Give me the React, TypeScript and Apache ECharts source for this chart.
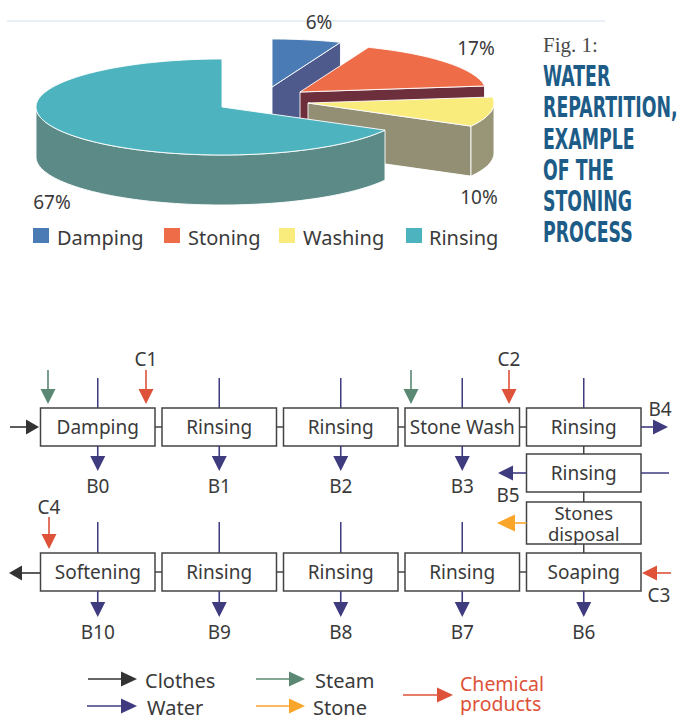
import React, { useEffect, useRef } from "react";
import * as echarts from "echarts";

// ---------- data ----------
const categories = ["Damping", "Stoning", "Washing", "Rinsing"];
const shares = [6, 17, 10, 67];

const topRow = ["Damping", "Rinsing", "Rinsing", "Stone Wash", "Rinsing"];
const bottomRow = ["Softening", "Rinsing", "Rinsing", "Rinsing", "Soaping"];
const topOutlets = ["B0", "B1", "B2", "B3"];
const bottomOutlets = ["B10", "B9", "B8", "B7", "B6"];
const titleLines = ["WATER", "REPARTITION,", "EXAMPLE", "OF THE", "STONING", "PROCESS"];

// ---------- styles ----------
const topColors = ["#4A7BB5", "#EE6D48", "#FAEC7C", "#4DB4BF"];
const cutColors = ["#4E5A8C", "#6E2F3D", "#928F74", "#5B8A87"];
const sideColors = ["#4E5A8C", "#6E2F3D", "#989677", "#5B8A87"];
const explode = [[50, -20], [78, -15], [86, -4], [0, 0]];
const labelPos = [[319, 22], [476, 48], [479, 197], [52, 202]];
const legendSquareX = [33, 164, 279, 406];
const legendTextX = [57, 188, 303, 429];

const CX = 222, CY = 107, RX = 186, RY = 48, DEPTH = 50;
const FONT = '"Noto Sans", "Lato", sans-serif';
const WATER = "#3F3B7F";
const STEAM = "#5A8872";
const CHEM = "#DD5239";
const STONE = "#F8A52A";
const CLOTH = "#333333";
const TXT = "#3A3A3A";

const rad = (a: number) => (a * Math.PI) / 180;

function arcPts(cx: number, cy: number, a0: number, a1: number, dz = 0) {
  const pts: number[][] = [];
  const n = Math.max(2, Math.ceil(Math.abs(a1 - a0) / 2));
  for (let k = 0; k <= n; k++) {
    const a = a0 + ((a1 - a0) * k) / n;
    pts.push([cx + RX * Math.sin(rad(a)), cy - RY * Math.cos(rad(a)) + dz]);
  }
  return pts;
}

function makeRender(i: number) {
  return (params: any, api: any) => {
    const total = shares.reduce((s, v) => s + v, 0);
    const v = api.value(0);
    const start = shares.slice(0, i).reduce((s, x) => s + x, 0);
    const a0 = (start / total) * 360;
    const a1 = ((start + v) / total) * 360;
    const cx = CX + explode[i][0];
    const cy = CY + explode[i][1];
    const edge = { stroke: "rgba(255,255,255,0.9)", lineWidth: 1 };
    const children: any[] = [];
    const cut = (a: number) => {
      const p = [cx + RX * Math.sin(rad(a)), cy - RY * Math.cos(rad(a))];
      children.push({
        type: "polygon",
        shape: { points: [[cx, cy], p, [p[0], p[1] + DEPTH], [cx, cy + DEPTH]] },
        style: { fill: cutColors[i], ...edge },
      });
    };
    if (Math.sin(rad(a1)) > 0.01) cut(a1);
    if (Math.sin(rad(a0)) < -0.01) cut(a0);
    const lo = Math.max(a0, 90), hi = Math.min(a1, 270);
    if (hi > lo) {
      const topArc = arcPts(cx, cy, lo, hi);
      const botArc = arcPts(cx, cy, lo, hi, DEPTH).reverse();
      children.push({
        type: "polygon",
        shape: { points: topArc.concat(botArc) },
        style: { fill: sideColors[i], ...edge },
      });
    }
    children.push({
      type: "polygon",
      shape: { points: [[cx, cy]].concat(arcPts(cx, cy, a0, a1)) },
      style: { fill: topColors[i], ...edge },
    });
    children.push({
      type: "text",
      style: {
        text: v + "%",
        x: labelPos[i][0],
        y: labelPos[i][1],
        align: "center",
        verticalAlign: "middle",
        font: `19px ${FONT}`,
        fill: TXT,
      },
    });
    return { type: "group", children };
  };
}

function txt(x: number, y: number, text: string, opts: any = {}) {
  return {
    type: "text",
    x,
    y,
    scaleX: opts.scaleX ?? 1,
    scaleY: opts.scaleY ?? 1,
    style: {
      text,
      x: 0,
      y: 0,
      align: opts.align ?? "center",
      verticalAlign: "middle",
      textAlign: opts.align ?? "center",
      textVerticalAlign: "middle",
      font: opts.font ?? `19px ${FONT}`,
      fill: opts.fill ?? TXT,
    },
  };
}

function line(x1: number, y1: number, x2: number, y2: number, color: string, lw = 1.5) {
  return { type: "line", shape: { x1, y1, x2, y2 }, style: { stroke: color, lineWidth: lw } };
}

function arrow(x1: number, y1: number, x2: number, y2: number, color: string, head = 15, half = 7.5, lw = 1.6) {
  const dx = x2 - x1, dy = y2 - y1;
  const len = Math.hypot(dx, dy);
  const ux = dx / len, uy = dy / len;
  const bx = x2 - ux * head, by = y2 - uy * head;
  const px = -uy, py = ux;
  return [
    line(x1, y1, bx, by, color, lw),
    {
      type: "polygon",
      shape: { points: [[x2, y2], [bx + px * half, by + py * half], [bx - px * half, by - py * half]] },
      style: { fill: color },
    },
  ];
}

function box(x: number, y: number, w: number, h: number) {
  return {
    type: "rect",
    shape: { x, y, width: w, height: h },
    style: { fill: "#fff", stroke: "#444", lineWidth: 1.5 },
  };
}

function buildGraphic() {
  const els: any[] = [];
  // top faint rule
  els.push(line(7, 21, 605, 21, "#E8EFF7", 2));
  // pie legend
  categories.forEach((c, i) => {
    els.push({
      type: "rect",
      shape: { x: legendSquareX[i], y: 228, width: 16, height: 15 },
      style: { fill: topColors[i] },
    });
    els.push(txt(legendTextX[i], 237, c, { align: "left", font: `20px ${FONT}` }));
  });
  // title
  els.push(txt(543, 45, "Fig. 1:", { align: "left", font: '21px "Liberation Serif", "DejaVu Serif", serif', fill: "#4A4A4A" }));
  titleLines.forEach((t, k) => {
    els.push(
      txt(543, 77 + k * 31.2, t, {
        align: "left",
        font: 'bold 23px "DejaVu Sans Condensed", "DejaVu Sans", sans-serif',
        fill: "#1D5C87",
        scaleX: 0.84,
        scaleY: 1.2,
      })
    );
  });

  // flow diagram
  const BX = [40.5, 162, 283.5, 405, 526.5];
  const BW = 114.5;
  const cxs = BX.map((x) => x + BW / 2);
  const TY = 408, BY = 553, BH = 38;

  // connectors
  for (let k = 0; k < 4; k++) {
    els.push(line(BX[k] + BW, TY + BH / 2, BX[k + 1], TY + BH / 2, "#444", 1.5));
    els.push(line(BX[k] + BW, BY + BH / 2, BX[k + 1], BY + BH / 2, "#444", 1.5));
  }
  els.push(line(cxs[4], 446, cxs[4], 454, "#444", 1.5));
  els.push(line(cxs[4], 492, cxs[4], 502, "#444", 1.5));
  els.push(line(cxs[4], 544, cxs[4], 553, "#444", 1.5));

  // water in-lines
  cxs.forEach((x) => els.push(line(x, 378, x, TY, WATER, 1.5)));
  for (let k = 0; k < 4; k++) els.push(line(cxs[k], 522, cxs[k], BY, WATER, 1.5));

  // boxes
  topRow.forEach((t, k) => {
    els.push(box(BX[k], TY, BW, BH));
    els.push(txt(cxs[k], TY + BH / 2, t));
  });
  bottomRow.forEach((t, k) => {
    els.push(box(BX[k], BY, BW, BH));
    els.push(txt(cxs[k], BY + BH / 2, t));
  });
  els.push(box(BX[4], 454, BW, 38));
  els.push(txt(cxs[4], 473, "Rinsing"));
  els.push(box(BX[4], 502, BW, 42));
  els.push(txt(cxs[4], 512.5, "Stones", { font: `18.5px ${FONT}` }));
  els.push(txt(cxs[4], 533, "disposal", { font: `18.5px ${FONT}` }));

  // outlets
  topOutlets.forEach((b, k) => {
    els.push(...arrow(cxs[k], 446, cxs[k], 471, WATER));
    els.push(txt(cxs[k], 486, b));
  });
  bottomOutlets.forEach((b, k) => {
    els.push(...arrow(cxs[k], 591, cxs[k], 617, WATER));
    els.push(txt(cxs[k], 632, b));
  });

  // steam & chemicals
  els.push(...arrow(48, 370, 48, 404, STEAM));
  els.push(...arrow(411, 370, 411, 404, STEAM));
  els.push(...arrow(146, 370, 146, 404, CHEM));
  els.push(txt(146, 359, "C1"));
  els.push(...arrow(509, 370, 509, 404, CHEM));
  els.push(txt(509, 359, "C2"));
  els.push(...arrow(49, 517, 49, 549, CHEM));
  els.push(txt(49, 507, "C4"));
  els.push(...arrow(671, 573, 642, 573, CHEM));
  els.push(txt(659, 595, "C3"));

  // clothes
  els.push(...arrow(10, 427, 39, 427, CLOTH, 13, 7.5));
  els.push(...arrow(40, 573, 9, 573, CLOTH, 13, 7.5));

  // B4, B5, water in, stones
  els.push(...arrow(641, 427, 668, 427, WATER));
  els.push(txt(660, 409, "B4"));
  els.push(...arrow(526.5, 473, 498, 473, WATER));
  els.push(txt(508, 495, "B5"));
  els.push(line(641, 473, 669, 473, WATER, 1.5));
  els.push(...arrow(526.5, 523, 497, 523, STONE, 18, 8.5));

  // flow legend
  els.push(...arrow(88, 679, 137, 679, CLOTH, 16, 7.5));
  els.push(txt(145, 680, "Clothes", { align: "left", font: `20px ${FONT}` }));
  els.push(...arrow(87, 706, 137, 706, WATER, 16, 7.5));
  els.push(txt(147, 707, "Water", { align: "left", font: `20px ${FONT}` }));
  els.push(...arrow(256, 679, 305, 679, STEAM, 16, 7.5));
  els.push(txt(315, 680, "Steam", { align: "left", font: `20px ${FONT}` }));
  els.push(...arrow(256, 706, 305, 706, STONE, 16, 7.5));
  els.push(txt(313, 707, "Stone", { align: "left", font: `20px ${FONT}` }));
  els.push(...arrow(403, 695, 453, 695, CHEM, 16, 7.5));
  els.push(txt(460, 683.5, "Chemical", { align: "left", font: `19.5px ${FONT}`, fill: CHEM }));
  els.push(txt(460, 703.5, "products", { align: "left", font: `19.5px ${FONT}`, fill: CHEM }));

  return els;
}

export default function App() {
  const ref = useRef<HTMLDivElement>(null);
  useEffect(() => {
    if (!ref.current) return;
    const chart = echarts.init(ref.current, undefined, { renderer: "svg" });
    chart.setOption({
      animation: false,
      backgroundColor: "#ffffff",
      series: categories.map((c, i) => ({
        type: "custom",
        name: c,
        coordinateSystem: "none",
        silent: true,
        data: [[shares[i]]],
        renderItem: makeRender(i),
      })),
      graphic: { elements: buildGraphic() },
    });
    return () => chart.dispose();
  }, []);
  return (
    <div
      ref={ref}
      style={{ position: "absolute", left: 0, top: 0, width: 680, height: 715 }}
    />
  );
}
